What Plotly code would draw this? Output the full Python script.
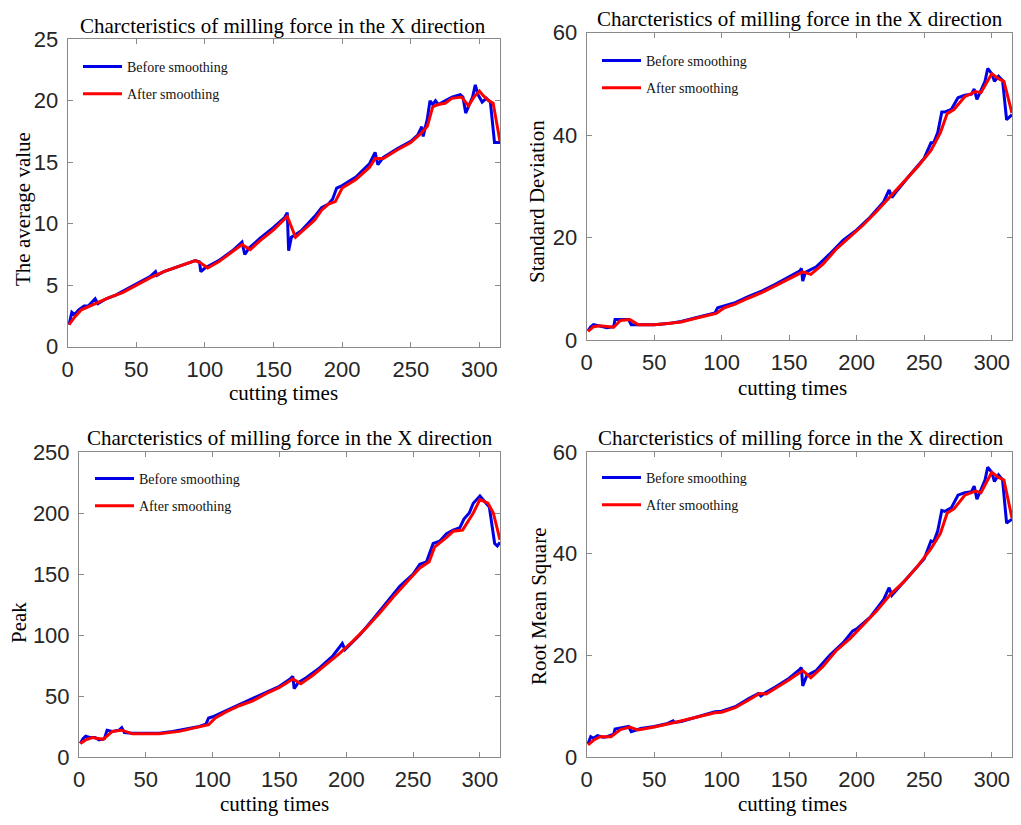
import plotly.graph_objects as go

# page body has an 8px margin on every side, so the figure is drawn 16px
# smaller and all reference pixel positions are shifted by OFF
OFF = 8
W, H = 1021 - 2 * OFF, 825 - 2 * OFF

# ---------------- data ----------------
avg_before_t = [1, 3, 5, 8, 12, 15, 20, 22, 28, 35, 40, 50, 60, 64, 65, 70, 80, 90, 93, 96, 97, 100, 110, 120, 127, 129, 132, 140, 150, 158, 160, 161, 163, 170, 180, 185, 190, 193, 196, 200, 210, 220, 224, 226, 230, 240, 250, 255, 258, 259, 262, 264, 266, 268, 270, 275, 280, 286, 288, 290, 293, 295, 297, 299, 302, 305, 308, 311, 315]
avg_before_v = [1.8, 2.8, 2.6, 3.0, 3.3, 3.3, 3.9, 3.5, 3.9, 4.2, 4.5, 5.1, 5.7, 6.1, 5.8, 6.1, 6.5, 6.9, 7.0, 6.9, 6.1, 6.4, 7.0, 7.8, 8.5, 7.5, 8.0, 8.8, 9.7, 10.5, 10.9, 7.8, 8.9, 9.4, 10.6, 11.3, 11.6, 12.0, 12.9, 13.1, 13.8, 14.9, 15.8, 14.8, 15.4, 16.1, 16.7, 17.2, 17.9, 17.1, 18.5, 20.0, 19.7, 20.0, 19.7, 20.0, 20.3, 20.5, 20.3, 19.0, 19.8, 20.3, 21.3, 20.5, 19.9, 20.2, 19.9, 16.6, 16.6]
avg_after_t = [1, 5, 10, 20, 25, 30, 40, 50, 60, 70, 80, 93, 97, 102, 110, 120, 127, 133, 140, 150, 160, 166, 170, 180, 185, 190, 195, 200, 210, 220, 224, 230, 240, 250, 257, 262, 266, 270, 275, 280, 287, 292, 296, 300, 303, 307, 310, 315]
avg_after_v = [1.8, 2.4, 3.0, 3.5, 3.7, 4.0, 4.4, 5.0, 5.6, 6.1, 6.5, 7.0, 6.8, 6.4, 6.9, 7.7, 8.3, 7.9, 8.6, 9.5, 10.6, 8.9, 9.3, 10.3, 11.1, 11.6, 11.8, 12.9, 13.6, 14.6, 15.3, 15.3, 16.0, 16.6, 17.3, 17.9, 19.5, 19.7, 19.8, 20.2, 20.3, 19.6, 20.3, 20.8, 20.4, 20.0, 19.8, 16.7]

std_before_t = [1, 3, 5, 8, 12, 15, 20, 21, 25, 31, 33, 40, 50, 60, 70, 80, 90, 95, 97, 100, 110, 120, 130, 140, 150, 158, 159, 160, 162, 170, 180, 190, 200, 210, 220, 224, 226, 230, 240, 250, 255, 257, 260, 263, 265, 270, 275, 280, 285, 287, 289, 292, 295, 297, 300, 302, 305, 308, 311, 315]
std_before_v = [1.8, 2.6, 3.0, 2.8, 2.6, 2.4, 2.6, 4.0, 4.0, 4.0, 3.0, 3.0, 3.0, 3.2, 3.6, 4.3, 5.0, 5.3, 6.3, 6.5, 7.3, 8.5, 9.6, 10.9, 12.3, 13.5, 14.0, 11.5, 13.2, 14.3, 16.8, 19.5, 21.5, 24.0, 27.0, 29.3, 27.8, 29.2, 32.4, 35.5, 38.5, 38.5, 40.5, 44.5, 44.5, 45.0, 47.3, 47.8, 48.0, 49.0, 47.0, 48.8, 50.5, 53.0, 52.0, 50.5, 51.5, 50.7, 43.0, 44.0]
std_after_t = [1, 5, 10, 20, 25, 32, 38, 50, 60, 70, 80, 96, 102, 110, 120, 130, 140, 150, 160, 166, 175, 185, 195, 205, 215, 225, 235, 245, 255, 262, 267, 272, 280, 288, 292, 300, 305, 309, 315]
std_after_v = [1.7, 2.6, 2.8, 2.5, 3.8, 4.0, 3.0, 3.0, 3.2, 3.5, 4.2, 5.2, 6.3, 7.0, 8.2, 9.3, 10.6, 12.0, 13.3, 12.8, 14.8, 17.8, 20.2, 22.5, 25.2, 28.0, 30.8, 33.8, 37.0, 40.5, 44.2, 45.0, 47.5, 48.5, 48.3, 52.0, 51.0, 50.5, 44.3]

peak_before_t = [1, 3, 5, 8, 12, 15, 19, 21, 25, 30, 32, 34, 40, 50, 60, 70, 80, 90, 95, 97, 100, 110, 120, 130, 140, 150, 158, 160, 161, 164, 170, 180, 190, 197, 199, 210, 220, 230, 240, 250, 255, 260, 265, 270, 275, 280, 285, 288, 292, 295, 300, 303, 307, 311, 313, 315]
peak_before_v = [11, 15, 17, 16, 16, 14, 15, 22, 21, 22, 24, 20, 19.5, 19.5, 19.5, 21, 23, 25, 27, 32, 33, 38, 43, 48, 53, 58, 64, 66, 56, 61, 65, 73, 83, 93, 88, 100, 113, 127, 140, 150, 158, 160, 175, 177, 183, 186, 188, 195, 200, 208, 214, 210, 205, 175, 173, 176]
peak_after_t = [1, 5, 10, 18, 25, 32, 40, 60, 75, 90, 97, 102, 110, 120, 130, 140, 150, 160, 166, 175, 185, 195, 205, 215, 225, 235, 245, 255, 262, 266, 275, 280, 287, 295, 300, 306, 310, 315]
peak_after_v = [11, 14, 16, 14.5, 21, 22, 19, 19, 21, 24.5, 26.5, 32, 37, 42, 46, 52, 57, 64, 60, 67, 76, 85, 95, 106, 118, 131, 143, 155, 160, 172, 180, 185, 186, 200, 211, 208, 200, 178]

rms_before_t = [1, 3, 5, 8, 12, 15, 20, 21, 25, 31, 33, 40, 50, 60, 64, 65, 70, 80, 90, 95, 100, 110, 120, 127, 129, 132, 140, 150, 158, 159, 160, 163, 170, 180, 190, 197, 200, 210, 220, 224, 226, 230, 240, 250, 255, 257, 260, 263, 265, 270, 275, 280, 285, 287, 289, 292, 295, 297, 300, 302, 305, 308, 311, 315]
rms_before_v = [2.6, 4.0, 3.7, 4.2, 3.9, 4.0, 4.5, 5.5, 5.7, 6.0, 5.0, 5.6, 6.0, 6.6, 7.1, 6.8, 7.0, 7.8, 8.6, 8.9, 9.0, 9.9, 11.5, 12.5, 12.0, 12.6, 13.8, 15.5, 17.3, 17.6, 14.0, 16.0, 17.0, 20.0, 22.5, 24.8, 25.2, 27.5, 31.0, 33.3, 31.8, 33.0, 36.0, 39.0, 42.5, 42.3, 44.5, 48.5, 48.3, 49.0, 51.5, 52.0, 52.2, 53.3, 50.7, 52.5, 54.5, 57.0, 56.0, 54.2, 55.5, 54.5, 46.0, 46.8]
rms_after_t = [1, 5, 10, 18, 25, 32, 38, 50, 65, 80, 95, 100, 110, 120, 128, 133, 140, 150, 160, 166, 175, 185, 195, 205, 215, 225, 235, 245, 255, 262, 267, 272, 280, 288, 292, 300, 305, 309, 315]
rms_after_v = [2.4, 3.3, 4.0, 4.0, 5.4, 5.9, 5.3, 5.9, 6.8, 7.7, 8.7, 8.8, 9.7, 11.2, 12.5, 12.4, 13.5, 15.2, 17.0, 15.6, 17.8, 21.0, 23.3, 26.0, 28.8, 32.0, 34.5, 37.5, 41.0, 44.0, 48.0, 48.8, 51.5, 52.3, 52.0, 56.0, 55.0, 54.5, 47.0]

title_text = "Charcteristics of milling force in the X direction"
x_title = "cutting times"
y_titles = ["The average value", "Standard Deviation", "Peak", "Root Mean Square"]
y_ranges = [[0, 25], [0, 60], [0, 250], [0, 60]]
y_dticks = [5, 20, 50, 20]
x_range = [0, 315]
x_dtick = 50
names = ["Before smoothing", "After smoothing"]

series = [
    (avg_before_t, avg_before_v, avg_after_t, avg_after_v),
    (std_before_t, std_before_v, std_after_t, std_after_v),
    (peak_before_t, peak_before_v, peak_after_t, peak_after_v),
    (rms_before_t, rms_before_v, rms_after_t, rms_after_v),
]

# ---------------- layout geometry (reference pixels) ----------------
areas = [
    (67.7, 500.0, 39.3, 346.7),
    (586.7, 1012.0, 32.7, 340.0),
    (79.0, 500.0, 452.0, 757.0),
    (586.7, 1012.0, 452.0, 757.0),
]
title_pos = [(283, 26), (800, 19), (290, 438), (801, 438)]
xtitle_pos = [(283, 393), (792, 388), (274, 804), (792, 804)]
ytitle_pos = [(23, 209), (537, 202), (19, 623), (539, 607)]
legend_pos = [(83, 66), (602, 60), (95, 478), (602, 477)]

def px(x):
    return (x - OFF) / W

def py(y):
    return 1 - (y - OFF) / H

SERIF = "Liberation Serif, Times New Roman, serif"
SANS = "Liberation Sans, Arial, sans-serif"
BLUE = "#0000e6"
RED = "#ff0000"
FRAME = "#8a8a8a"

fig = go.Figure()
annotations = []
layout = dict(
    template="none",
    width=W, height=H,
    margin=dict(l=0, r=0, t=0, b=0, autoexpand=False),
    paper_bgcolor="white", plot_bgcolor="white",
    showlegend=True,
)

for i, (bt, bv, at, av) in enumerate(series):
    k = "" if i == 0 else str(i + 1)
    lg = "legend" if i == 0 else f"legend{i + 1}"
    fig.add_trace(go.Scatter(x=bt, y=bv, mode="lines", name=names[0],
                             line=dict(color=BLUE, width=3),
                             xaxis="x" + k, yaxis="y" + k, legend=lg,
                             legendgroup=f"b{i}"))
    fig.add_trace(go.Scatter(x=at, y=av, mode="lines", name=names[1],
                             line=dict(color=RED, width=3),
                             xaxis="x" + k, yaxis="y" + k, legend=lg,
                             legendgroup=f"a{i}"))
    l, r, t, b = areas[i]
    axcommon = dict(showline=True, linecolor=FRAME, linewidth=1, mirror="ticks",
                    ticks="inside", ticklen=5, tickcolor=FRAME, showgrid=False,
                    zeroline=False, automargin=False,
                    tickfont=dict(family=SANS, size=22, color="#262626"))
    layout["xaxis" + k] = dict(domain=[px(l), px(r)], range=x_range, dtick=x_dtick,
                               anchor="y" + k, ticklabelstandoff=3, **axcommon)
    layout["yaxis" + k] = dict(domain=[py(b), py(t)], range=y_ranges[i], dtick=y_dticks[i],
                               anchor="x" + k, ticklabelstandoff=4, **axcommon)
    lx, ly = legend_pos[i]
    layout[lg] = dict(x=px(lx - 5), y=py(ly - 15), xanchor="left", yanchor="top",
                      bgcolor="rgba(0,0,0,0)", borderwidth=0,
                      font=dict(family=SERIF, size=14, color="#111111"),
                      tracegroupgap=6, itemwidth=39)
    annotations.append(dict(text=title_text, x=px(title_pos[i][0]), y=py(title_pos[i][1]),
                            xref="paper", yref="paper", showarrow=False,
                            xanchor="center", yanchor="middle",
                            font=dict(family=SERIF, size=21, color="black")))
    annotations.append(dict(text=x_title, x=px(xtitle_pos[i][0]), y=py(xtitle_pos[i][1]),
                            xref="paper", yref="paper", showarrow=False,
                            xanchor="center", yanchor="middle",
                            font=dict(family=SERIF, size=21, color="black")))
    annotations.append(dict(text=y_titles[i], x=px(ytitle_pos[i][0]), y=py(ytitle_pos[i][1]),
                            xref="paper", yref="paper", showarrow=False, textangle=-90,
                            xanchor="center", yanchor="middle",
                            font=dict(family=SERIF, size=21, color="black")))

layout["annotations"] = annotations
fig.update_layout(**layout)
fig.write_html("out.html")
